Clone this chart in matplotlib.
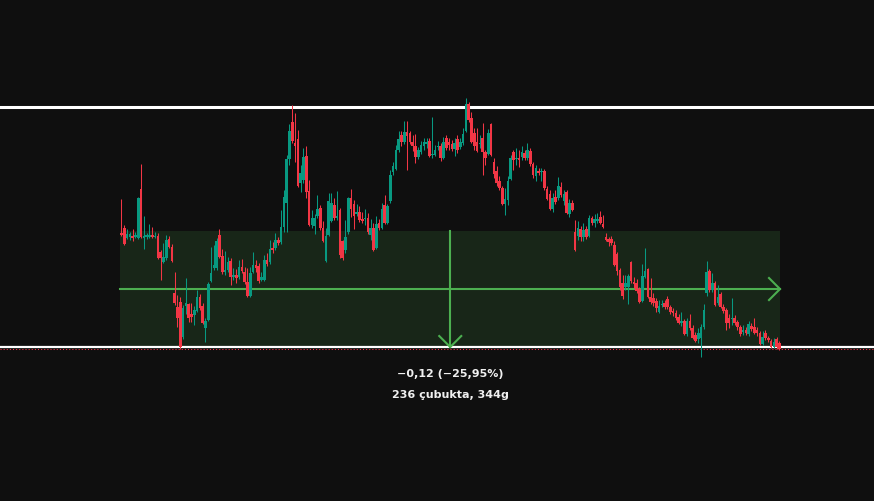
import numpy as np
import matplotlib.pyplot as plt

# OHLC of the 236 bars, price x 1000
open_k = [460,466,455,456,457,456,455,506,455,456, 456,458,456,457,441,430,435,454,446,398,
          384,389,353,385,387,377,376,380,394,385, 362,370,411,424,424,458,437,420,422,431,
          415,417,415,425,420,410,395,420,427,426, 412,412,432,430,445,445,453,451,467,491,
          537,575,553,558,512,515,540,504,469,468, 478,486,466,431,458,473,489,476,484,452,
          443,461,497,490,480,482,475,475,476,458, 466,445,471,466,489,471,493,523,527,546,
          562,555,565,564,555,550,539,544,550,552, 556,541,541,549,550,538,559,555,552,547,
          558,549,553,566,594,579,564,555,552,559, 544,542,573,534,525,514,507,490,495,516,
          544,537,538,539,543,538,545,532,519,525, 523,525,506,501,485,498,497,508,493,503,
          480,491,461,457,465,456,465,457,476,471, 473,477,470,456,454,454,448,439,422,409,
          405,405,430,410,409,402,390,415,423,394, 393,390,379,386,388,392,384,380,378,373,
          367,369,356,369,362,355,351,352,363,398, 421,401,409,388,397,384,381,372,371,372,
          368,363,358,360,356,364,363,360,357,346, 357,352,349,342,351,347]
high_k = [496,469,465,461,465,461,498,532,478,460, 470,467,461,460,443,450,458,457,449,420,
          396,394,386,414,388,388,385,401,397,388, 372,410,446,448,455,465,444,442,436,435,
          424,423,432,433,425,424,425,441,432,429, 420,438,440,453,451,460,456,484,505,541,
          573,593,585,567,531,548,550,515,484,480, 500,489,473,466,502,502,497,504,486,453,
          474,498,506,495,490,488,482,485,481,475, 471,478,475,491,500,490,526,534,551,566,
          566,576,576,566,562,563,549,556,559,559, 559,580,551,556,553,560,562,559,557,559,
          562,559,569,600,596,586,569,569,562,574, 546,568,574,538,530,519,509,507,519,541,
          546,548,546,550,546,553,548,534,531,528, 528,527,509,505,502,505,518,513,505,505,
          496,495,474,473,468,471,468,479,478,480, 481,483,479,460,456,457,452,441,424,417,
          417,418,431,415,413,405,428,445,424,414, 398,393,391,391,391,395,386,383,381,377,
          379,371,372,377,365,358,362,366,387,431, 423,419,411,407,399,387,383,377,393,376,
          370,365,365,363,369,367,372,363,359,359, 360,354,351,352,353,349]
low_k = [457,448,454,453,452,455,454,455,444,454, 455,455,455,433,412,429,432,445,430,386,
         363,340,351,377,368,368,365,379,381,366, 348,369,410,422,422,435,418,417,420,407,
         412,409,413,419,408,394,394,419,420,409, 411,411,426,428,440,443,448,449,461,461,
         531,553,534,508,503,512,497,468,466,459, 476,463,451,430,457,472,474,474,435,432,
         440,459,477,465,478,472,471,469,459,453, 442,444,463,465,470,470,491,520,526,544,
         550,552,526,552,545,533,537,542,546,548, 539,538,540,546,535,537,546,546,545,540,
         543,547,551,565,575,553,546,544,548,520, 531,541,540,517,509,505,489,479,489,515,
         526,531,529,536,536,536,530,517,514,520, 514,505,495,484,482,490,495,498,489,480,
         477,483,442,453,452,452,454,456,469,467, 471,470,466,452,447,448,426,417,401,392,
         401,387,409,403,398,388,389,414,393,387, 385,379,378,384,382,382,377,375,370,366,
         364,355,354,360,351,348,347,332,361,395, 399,399,385,386,383,378,360,362,365,365,
         360,354,355,355,354,359,356,354,345,345, 350,348,341,341,340,339]
close_k = [458,449,459,459,455,458,497,456,457,458, 458,456,457,435,435,436,453,446,431,388,
           372,342,383,388,372,373,381,394,383,367, 369,408,419,427,452,436,420,422,430,415,
           417,414,425,421,410,395,419,427,424,411, 415,432,428,444,443,453,450,467,498,537,
           566,556,550,509,522,539,503,469,476,476, 485,466,452,457,493,491,476,478,438,435,
           456,497,485,478,482,474,473,476,461,466, 443,470,466,485,471,488,520,530,546,558,
           555,565,561,555,550,539,546,551,555,555, 540,542,546,550,538,555,548,551,547,553,
           546,555,563,594,577,555,550,545,553,544, 538,564,541,521,512,507,490,496,514,538,
           536,538,536,544,538,546,532,520,528,522, 525,507,496,485,497,492,509,500,501,481,
           491,484,443,466,456,463,456,476,471,475, 475,471,467,453,451,450,427,421,405,395,
           409,416,411,408,400,389,416,421,394,389, 388,383,385,387,384,384,379,378,372,367,
           369,356,369,362,352,349,357,363,381,420, 401,409,386,394,384,380,367,367,372,367,
           363,356,360,357,366,361,357,357,346,353, 352,350,342,348,342,340]

# measured range and horizontal levels
range_start_price = 0.4624
range_end_price = 0.3424
upper_level = 0.591
lower_level = 0.3424
change_label = "\u22120,12 (\u221225,95%)"
bars_label = "236 çubukta, 344g"

bg = '#0f0f0f'
up_col = '#089981'
down_col = '#f23645'
tool_col = '#4caf50'

o = np.array(open_k) / 1000
h = np.array(high_k) / 1000
l = np.array(low_k) / 1000
c = np.array(close_k) / 1000
x = np.arange(len(o))
cols = np.where(c >= o, up_col, down_col)

fig = plt.figure(figsize=(8.74, 5.01), dpi=100, facecolor=bg)
ax = fig.add_axes([0, 0, 1, 1])
ax.set_facecolor(bg)
ax.set_xlim(-43.39, 268.75)
ax.set_ylim(0.18312, 0.7014)
ax.set_axis_off()

# range box
left, right = x[0] - 0.36, x[-1] + 0.18
ax.fill_between([left, right], range_end_price, range_start_price, color=tool_col, alpha=0.15, lw=0, zorder=1)

# white horizontal lines
ax.axhline(upper_level, color='white', lw=2.2, zorder=2)
ax.axhline(lower_level, color='white', lw=1.6, zorder=2)

# arrows of the range tool
mid_price = (range_start_price + range_end_price) / 2
mid_bar = (left + right) / 2
dx, dy = 3.93, 0.0114
ax.plot([left, right], [mid_price, mid_price], color=tool_col, lw=1.5, zorder=2)
ax.plot([right - dx, right, right - dx], [mid_price + dy, mid_price, mid_price - dy],
        color=tool_col, lw=1.5, zorder=2, solid_joinstyle='miter')
ax.plot([mid_bar, mid_bar], [range_start_price, range_end_price], color=tool_col, lw=1.5, zorder=2)
ax.plot([mid_bar - dx, mid_bar, mid_bar + dx], [range_end_price + dy, range_end_price, range_end_price + dy],
        color=tool_col, lw=1.5, zorder=2, solid_joinstyle='miter')

# last price dotted line
ax.axhline(c[-1], color=down_col, lw=0.75, ls=(0, (1, 2)), zorder=2)

# candles
ax.vlines(x, l, h, colors=cols, lw=0.75, zorder=3)
body_lo = np.minimum(o, c)
body_h = np.maximum(np.abs(c - o), 0.0011)
ax.bar(x, body_h, bottom=body_lo, width=0.97, color=cols, lw=0, zorder=4)

# labels
for txt, off in [(change_label, -19.4), (bars_label, -34.6)]:
    ax.annotate(txt, (mid_bar, range_end_price), xytext=(0, off), textcoords='offset points',
                ha='center', va='center', color='#f0f0f0', fontsize=8, fontweight='bold',
                family='DejaVu Sans')

fig.savefig('out.png', dpi=100, facecolor=bg)
